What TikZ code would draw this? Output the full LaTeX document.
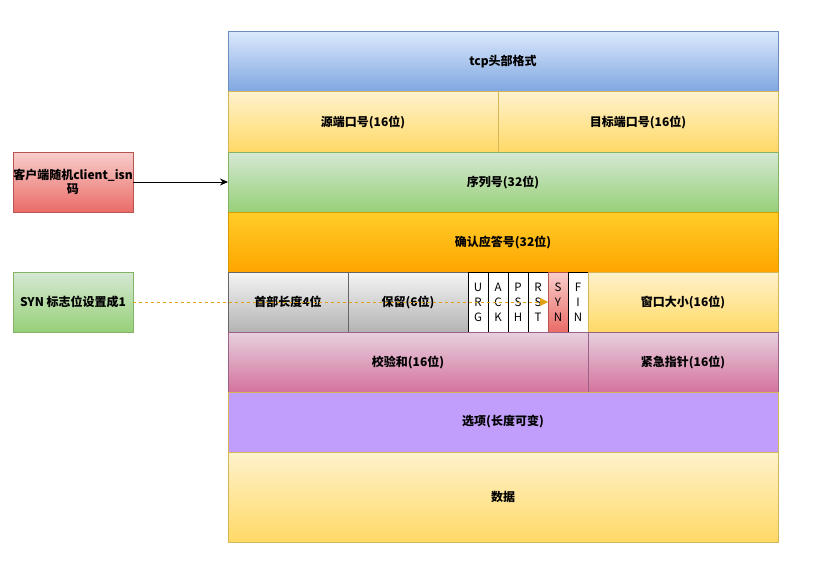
\documentclass[tikz,border=0pt]{standalone}
\usepackage{fontspec}
\setmainfont{Noto Sans CJK SC}
\usetikzlibrary{arrows.meta}

\definecolor{blueTop}{HTML}{DAE8FC}
\definecolor{blueBot}{HTML}{7EA6E0}
\definecolor{blueLine}{HTML}{6C8EBF}
\definecolor{yelTop}{HTML}{FFF2CC}
\definecolor{yelBot}{HTML}{FFD966}
\definecolor{yelLine}{HTML}{D6B656}
\definecolor{grnTop}{HTML}{D5E8D4}
\definecolor{grnBot}{HTML}{97D077}
\definecolor{grnLine}{HTML}{82B366}
\definecolor{orgTop}{HTML}{FFCD28}
\definecolor{orgBot}{HTML}{FFA500}
\definecolor{orgLine}{HTML}{D79B00}
\definecolor{gryTop}{HTML}{F5F5F5}
\definecolor{gryBot}{HTML}{B3B3B3}
\definecolor{gryLine}{HTML}{666666}
\definecolor{redTop}{HTML}{F8CECC}
\definecolor{redBot}{HTML}{EA6B66}
\definecolor{redLine}{HTML}{B85450}
\definecolor{pnkTop}{HTML}{E6D0DE}
\definecolor{pnkBot}{HTML}{D5739D}
\definecolor{pnkLine}{HTML}{996185}
\definecolor{optFill}{HTML}{C19EFC}
\definecolor{dashLine}{HTML}{E0A010}

\tikzset{
	field/.style={draw, line width=1pt, inner sep=0pt, outer sep=0pt, align=center,
		font=\bfseries\fontsize{12}{14}\selectfont},
	bluebox/.style={field, top color=blueTop, bottom color=blueBot, draw=blueLine},
	yelbox/.style={field, top color=yelTop, bottom color=yelBot, draw=yelLine},
	grnbox/.style={field, top color=grnTop, bottom color=grnBot, draw=grnLine},
	orgbox/.style={field, top color=orgTop, bottom color=orgBot, draw=orgLine},
	grybox/.style={field, top color=gryTop, bottom color=gryBot, draw=gryLine},
	redbox/.style={field, top color=redTop, bottom color=redBot, draw=redLine},
	pnkbox/.style={field, top color=pnkTop, bottom color=pnkBot, draw=pnkLine},
	flagbit/.style={draw=black, fill=white, line width=1pt, inner sep=0pt, outer sep=0pt,
		minimum width=20pt, minimum height=60pt, align=center,
		font=\fontsize{11.5}{15}\selectfont},
}

\begin{document}
\begin{tikzpicture}[x=1pt,y=-1pt]
	\useasboundingbox (0,0) rectangle (813,567);

	% Intestazione
	\node[bluebox, minimum width=550pt, minimum height=60pt] (head) at (503,62) {tcp头部格式};

	% Porte
	\node[yelbox, minimum width=270pt, minimum height=60pt] (srcport) at (363,122) {源端口号(16位)};
	\node[yelbox, minimum width=280pt, minimum height=60pt] (dstport) at (638,122) {目标端口号(16位)};

	% Numeri di sequenza
	\node[grnbox, minimum width=550pt, minimum height=60pt] (seq) at (503,182) {序列号(32位)};
	\node[orgbox, minimum width=550pt, minimum height=60pt] (ack) at (503,242) {确认应答号(32位)};

	% Riga dei flag
	\node[grybox, minimum width=120pt, minimum height=60pt] (hlen) at (288,302) {首部长度4位};
	\node[grybox, minimum width=120pt, minimum height=60pt] (resv) at (408,302) {保留(6位)};
	\node[flagbit] (urg) at (478,302) {U\\R\\G};
	\node[flagbit] (ackf) at (498,302) {A\\C\\K};
	\node[flagbit] (psh) at (518,302) {P\\S\\H};
	\node[flagbit] (rst) at (538,302) {R\\S\\T};
	\node[flagbit, top color=redTop, bottom color=redBot, draw=redLine] (syn) at (558,302) {S\\Y\\N};
	\node[flagbit] (fin) at (578,302) {F\\I\\N};
	\node[yelbox, minimum width=190pt, minimum height=60pt] (win) at (683,302) {窗口大小(16位)};

	% Checksum e puntatore urgente
	\node[pnkbox, minimum width=360pt, minimum height=60pt] (chk) at (408,362) {校验和(16位)};
	\node[pnkbox, minimum width=190pt, minimum height=60pt] (urgptr) at (683,362) {紧急指针(16位)};

	% Opzioni e dati
	\node[field, fill=optFill, draw=yelLine, minimum width=550pt, minimum height=60pt] (opt) at (503,422) {选项(长度可变)};
	\node[yelbox, minimum width=550pt, minimum height=90pt] (data) at (503,497) {数据};

	% Note a sinistra
	\node[redbox, minimum width=120pt, minimum height=60pt] (isn) at (73,182) {客户端随机client\_isn\\码};
	\node[grnbox, minimum width=120pt, minimum height=60pt] (synset) at (73,302) {SYN 标志位设置成1};

	% Frecce
	\draw[line width=1pt, -{Stealth[length=8pt,width=7pt]}] (isn) -- (seq);
	\draw[line width=1pt, dashLine, dash pattern=on 3pt off 3pt, -{Triangle[length=8pt,width=8pt]}] (synset) -- (syn);
\end{tikzpicture}
\end{document}
